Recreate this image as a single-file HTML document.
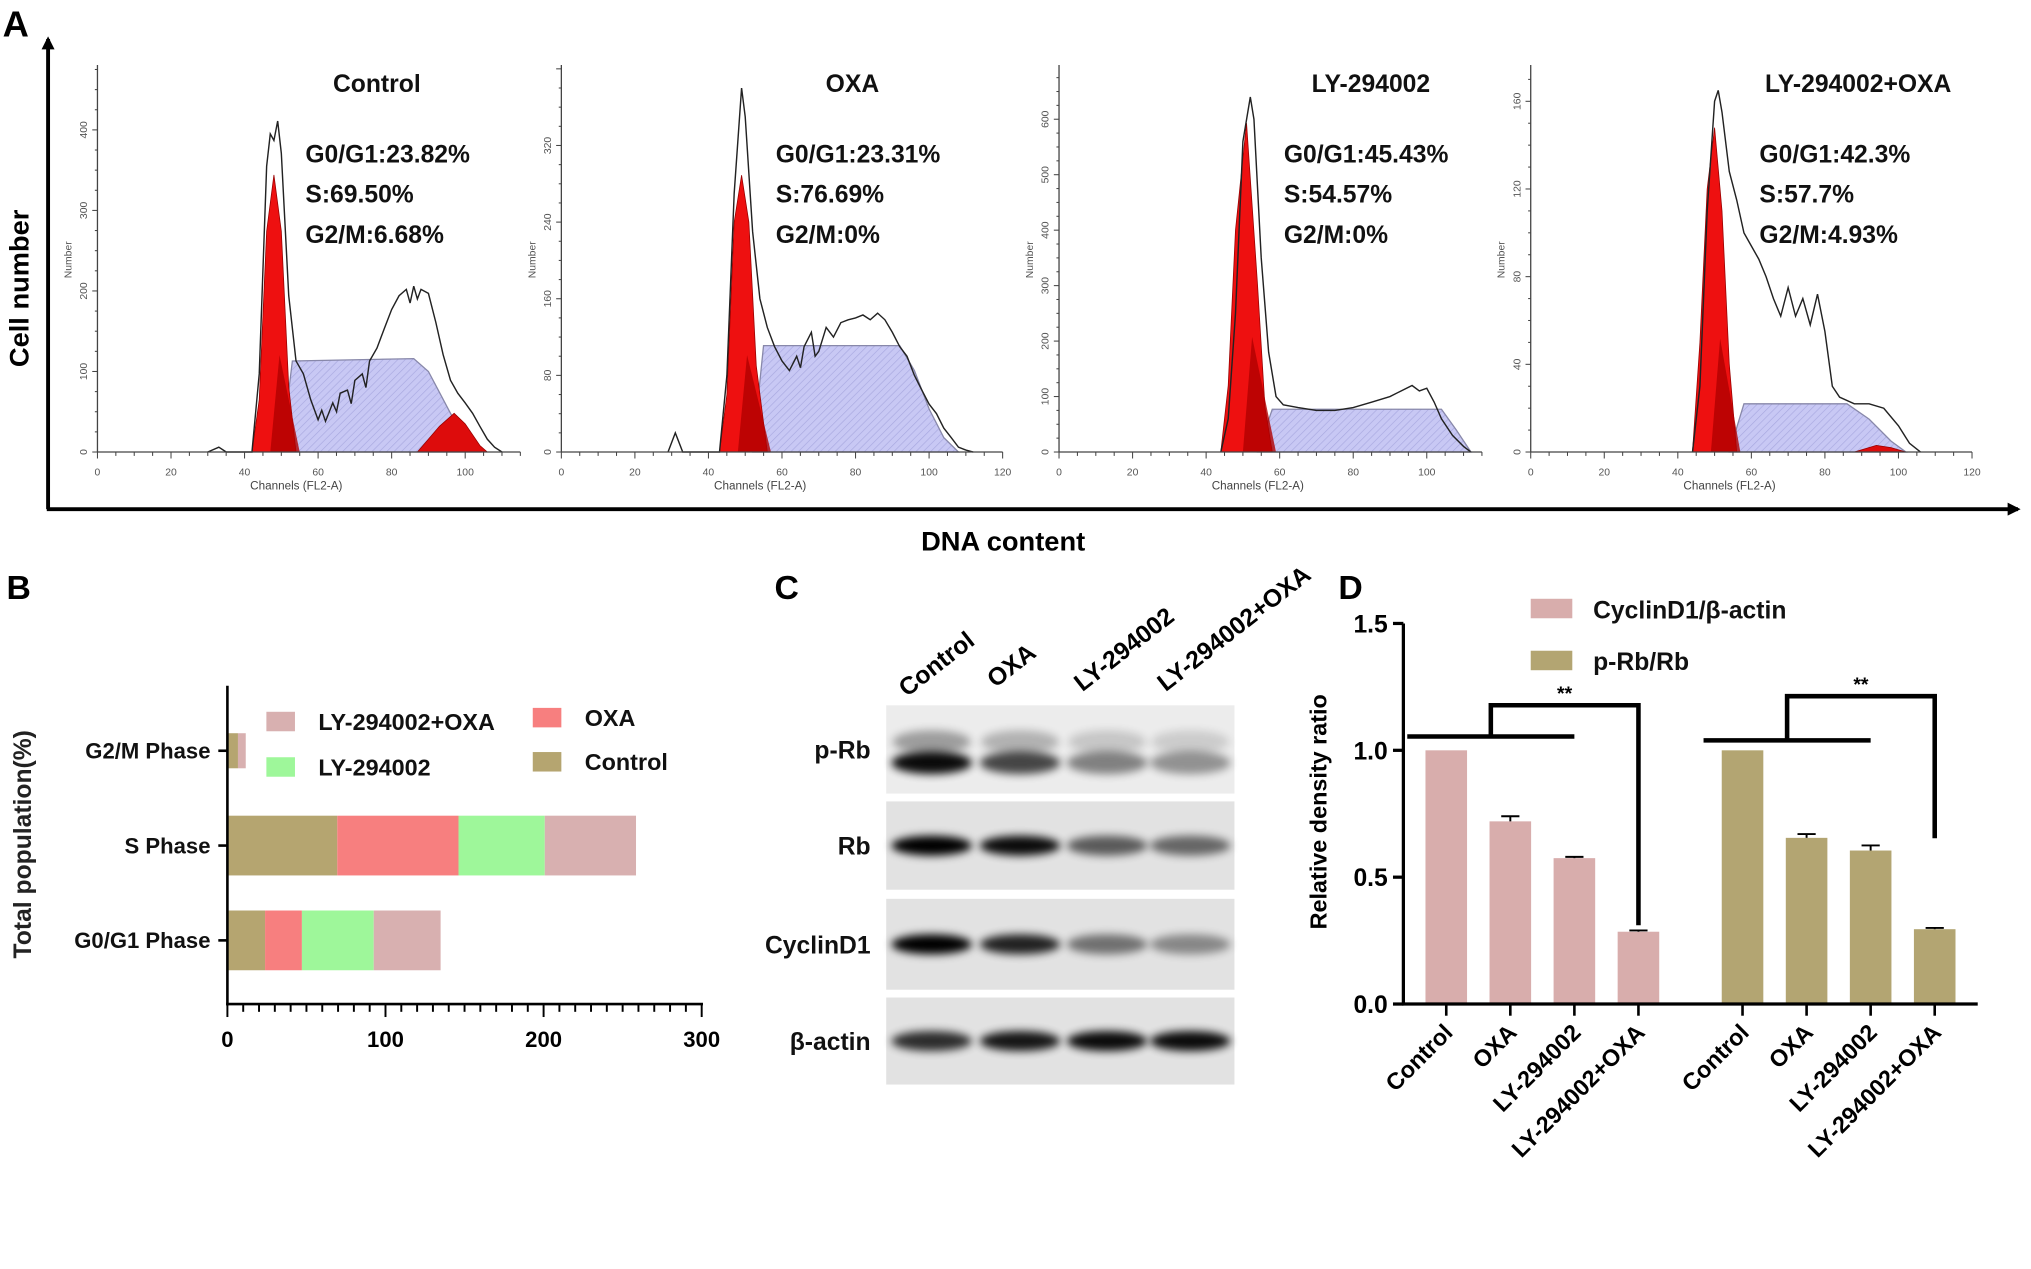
<!DOCTYPE html>
<html><head><meta charset="utf-8">
<style>
html,body{margin:0;padding:0;background:#fff;}
svg{display:block;}
text{font-family:"Liberation Sans",Arial,sans-serif;}
.b{font-weight:bold;}
</style></head>
<body>
<svg id="fig" width="2031" height="1269" viewBox="0 0 1563 977" preserveAspectRatio="none" xmlns="http://www.w3.org/2000/svg">
<defs>
<pattern id="hatch" width="4" height="4" patternUnits="userSpaceOnUse" patternTransform="rotate(45)">
<rect width="4" height="4" fill="#c8c8f4"/><line x1="0" y1="0" x2="0" y2="4" stroke="#a8a8e0" stroke-width="1"/></pattern>
<filter id="blur" x="-30%" y="-80%" width="160%" height="260%"><feGaussianBlur stdDeviation="3.2"/></filter>
<marker id="arr" markerWidth="10" markerHeight="10" refX="8" refY="5" orient="auto" markerUnits="userSpaceOnUse"><path d="M0,0 L10,5 L0,10 z" fill="#000"/></marker>
</defs>
<g id="panelA"></g>
<g id="panelB"></g>
<g id="panelC"></g>
<g id="panelD"></g>
</svg>
<script>
// ---------- Panel A data ----------
const histTitles = ["Control","OXA","LY-294002","LY-294002+OXA"];
const statG1 = ["G0/G1:23.82%","G0/G1:23.31%","G0/G1:45.43%","G0/G1:42.3%"];
const statS = ["S:69.50%","S:76.69%","S:54.57%","S:57.7%"];
const statG2 = ["G2/M:6.68%","G2/M:0%","G2/M:0%","G2/M:4.93%"];
const yTicksCtrl = [0,100,200,300,400];
const yTicksOxa = [0,80,160,240,320];
const yTicksLy = [0,100,200,300,400,500,600];
const yTicksLyOxa = [0,40,80,120,160];
const xTicksHist = [0,20,40,60,80,100,120];
const outCtrl = [[30,0],[33,6],[35,0],[42,0],[44,97],[46,355],[47,395],[48,387],[49,411],[50,371],[52,194],[54,113],[56,97],[58,65],[60,40],[61,52],[62,38],[64,61],[65,50],[66,73],[68,77],[69,60],[70,89],[72,97],[73,80],[74,113],[76,129],[78,153],[80,177],[82,194],[84,202],[85,185],[86,206],[87,190],[88,202],[90,197],[92,161],[94,121],[96,89],[98,73],[100,61],[102,48],[104,32],[106,16],[108,6],[110,0]];
const g1Ctrl = [[42,0],[44,65],[46,274],[48,344],[50,274],[52,81],[54,0]];
const sCtrl = [[50,0],[53,113],[86,116],[90,100],[96,48],[100,16],[104,0]];
const g2Ctrl = [[87,0],[93,32],[97,48],[100,35],[104,8],[106,0]];
const outOxa = [[29,0],[31,20],[33,0],[43,0],[45,80],[47,270],[49,380],[50,350],[52,230],[54,160],[56,130],[58,110],[60,95],[62,85],[64,100],[65,88],[66,110],[68,125],[69,100],[70,105],[72,130],[74,120],[76,135],[78,138],[80,140],[82,143],[84,138],[86,145],[88,138],[90,125],[92,110],[94,100],[96,80],[98,65],[100,50],[102,40],[104,25],[106,15],[108,5],[110,2],[112,0]];
const g1Oxa = [[43,0],[45,60],[47,240],[49,289],[51,240],[53,90],[56,0]];
const sOxa = [[52,0],[55,111],[92,111],[96,85],[100,45],[104,15],[108,0]];
const g2Oxa = [];
const outLy = [[44,0],[46,60],[48,250],[50,560],[52,640],[53,600],[55,350],[57,180],[59,100],[61,85],[65,80],[70,75],[75,75],[80,80],[85,90],[90,100],[93,110],[96,120],[98,110],[100,115],[102,90],[104,60],[107,30],[110,10],[112,0]];
const g1Ly = [[44,0],[46,120],[48,400],[51,593],[54,300],[56,80],[58,0]];
const sLy = [[54,0],[58,77],[104,77],[108,40],[112,0]];
const g2Ly = [];
const outLyOxa = [[44,0],[46,30],[48,110],[50,160],[51,165],[52,155],[54,128],[56,115],[58,100],[60,94],[62,88],[64,80],[66,70],[68,62],[70,75],[72,62],[74,70],[76,58],[78,72],[80,55],[82,30],[84,25],[88,22],[92,22],[96,20],[100,12],[103,4],[106,0]];
const g1LyOxa = [[44,0],[46,50],[48,120],[50,148],[52,110],[54,40],[56,0]];
const sLyOxa = [[54,0],[58,22],[86,22],[92,15],[98,5],[102,0]];
const g2LyOxa = [[88,0],[94,3],[98,2],[102,0]];

// ---------- Panel B data ----------
const phases = ["G2/M Phase","S Phase","G0/G1 Phase"];
const bControl = [6.68,69.50,23.82];
const bOxa = [0,76.69,23.31];
const bLy = [0,54.57,45.43];
const bLyOxa = [4.93,57.7,42.3];
const bTicks = [0,100,200,300];

// ---------- Panel C data ----------
const blotRows = ["p-Rb","Rb","CyclinD1","β-actin"];
const blotLanes = ["Control","OXA","LY-294002","LY-294002+OXA"];
const intPRb = [0.95,0.7,0.45,0.38];
const intRb = [1.0,0.95,0.6,0.55];
const intCyc = [1.0,0.85,0.5,0.4];
const intAct = [0.8,0.9,0.95,0.95];

// ---------- Panel D data ----------
const dCats = ["Control","OXA","LY-294002","LY-294002+OXA"];
const dCyc = [1.0,0.72,0.575,0.285];
const dCycErr = [0,0.02,0.005,0.005];
const dPrb = [1.0,0.655,0.605,0.295];
const dPrbErr = [0,0.015,0.02,0.005];
const dTicks = [0.0,0.5,1.0,1.5];

const NS="http://www.w3.org/2000/svg";
function mk(parent,tag,attrs,txt){const e=document.createElementNS(NS,tag);for(const k in attrs)e.setAttribute(k,attrs[k]);if(txt!==undefined)e.textContent=txt;parent.appendChild(e);return e;}

// ===== Panel A =====
const A=document.getElementById('panelA');
let t=mk(A,'text',{x:2,y:28,'font-size':28,class:'b'},'A');


let l=mk(A,'line',{x1:37,y1:392,x2:37,y2:30,stroke:'#000','stroke-width':3,'marker-end':'url(#arr)'});


l=mk(A,'line',{x1:36,y1:392,x2:1553,y2:392,stroke:'#000','stroke-width':3,'marker-end':'url(#arr)'});


t=mk(A,'text',{x:0,y:0,'font-size':21,class:'b','text-anchor':'middle',transform:'translate(22,222) rotate(-90)'},'Cell number');


t=mk(A,'text',{x:772,y:424,'font-size':21,class:'b','text-anchor':'middle'},'DNA content');



const panels=[
 {x0:75,xmax:115,ticks:yTicksCtrl,ppc:0.62,out:outCtrl,g1:g1Ctrl,s:sCtrl,g2:g2Ctrl,tx:290,sx:235},
 {x0:432,xmax:120,ticks:yTicksOxa,ppc:0.7375,out:outOxa,g1:g1Oxa,s:sOxa,g2:g2Oxa,tx:656,sx:597},
 {x0:815,xmax:115,ticks:yTicksLy,ppc:0.427,out:outLy,g1:g1Ly,s:sLy,g2:g2Ly,tx:1055,sx:988},
 {x0:1178,xmax:120,ticks:yTicksLyOxa,ppc:1.6875,out:outLyOxa,g1:g1LyOxa,s:sLyOxa,g2:g2LyOxa,tx:1430,sx:1354}
];
const Y0=348, PXC=2.83;
panels.forEach((p,i)=>{
 const g=mk(A,'g',{});
 
 
 const xs=c=>p.x0+c*PXC, ys=v=>Y0-v*p.ppc;
 const pathOf=(arr,close)=>arr.map((d,k)=>(k?'L':'M')+xs(d[0]).toFixed(1)+','+ys(d[1]).toFixed(1)).join(' ')+(close?' Z':'');
 if(p.s.length){let e=mk(g,'path',{d:pathOf(p.s,true),fill:'url(#hatch)',stroke:'#8888aa','stroke-width':1});
  
  }
 let e=mk(g,'path',{d:pathOf(p.g1,true),fill:'#ee1010',stroke:'#900','stroke-width':0.6});
 
 
 const pk=p.g1.reduce((a,b)=>b[1]>a[1]?b:a);
 const last=p.g1[p.g1.length-1];
 mk(g,'path',{d:`M${xs(pk[0]-1)},${Y0} L${xs(pk[0]+1.5)},${ys(pk[1]*0.35)} L${xs(last[0]+1)},${Y0} Z`,fill:'#b00000',opacity:0.8});
 if(p.g2.length){e=mk(g,'path',{d:pathOf(p.g2,true),fill:'#dd0c0c',stroke:'#900','stroke-width':0.6});
  
  }
 e=mk(g,'path',{d:pathOf(p.out,false),fill:'none',stroke:'#222','stroke-width':1.1});
 
 
 mk(g,'line',{x1:p.x0,y1:Y0,x2:p.x0,y2:50,stroke:'#444','stroke-width':1});
 mk(g,'line',{x1:p.x0,y1:Y0,x2:xs(p.xmax),y2:Y0,stroke:'#444','stroke-width':1});
 for(let c=0;c<=p.xmax;c+=5){mk(g,'line',{x1:xs(c),y1:Y0,x2:xs(c),y2:Y0+(c%20?3:5),stroke:'#444','stroke-width':0.8});}
 xTicksHist.filter(c=>c<=p.xmax).forEach(c=>{mk(g,'text',{x:xs(c),y:Y0+18,'font-size':8,'text-anchor':'middle',fill:'#555'},String(c));});
 const step=p.ticks[1]-p.ticks[0];
 for(let v=0;v*p.ppc<=298;v+=step/4){mk(g,'line',{x1:p.x0,y1:ys(v),x2:p.x0-(v%step?2:4),y2:ys(v),stroke:'#444','stroke-width':0.8});}
 p.ticks.forEach(v=>{mk(g,'text',{x:0,y:0,'font-size':8,'text-anchor':'middle',fill:'#555',transform:`translate(${p.x0-8},${ys(v)}) rotate(-90)`},String(v));});
 mk(g,'text',{x:0,y:0,'font-size':8,'text-anchor':'middle',fill:'#555',transform:`translate(${p.x0-20},200) rotate(-90)`},'Number');
 mk(g,'text',{x:p.x0+153,y:Y0+29,'font-size':9,'text-anchor':'middle',fill:'#444'},'Channels (FL2-A)');
 e=mk(g,'text',{x:p.tx,y:71,'font-size':19,class:'b','text-anchor':'middle',fill:'#111'},histTitles[i]);
 
 
 [statG1[i],statS[i],statG2[i]].forEach((s,k)=>{
  e=mk(g,'text',{x:p.sx,y:125+k*31,'font-size':19,class:'b',fill:'#111'},s);
  
  
 });
});

// ===== Panel B =====
const B=document.getElementById('panelB');
t=mk(B,'text',{x:5,y:461,'font-size':26,class:'b'},'B');


const bx=v=>175+v*(365/300);
const bCenters=[578,651,724], bH=[27,46,46];
const series=[[bControl,'#b5a570','Control'],[bOxa,'#f77f7f','OXA'],[bLy,'#9ef79a','LY-294002'],[bLyOxa,'#d8b0b0','LY-294002+OXA']];
phases.forEach((ph,i)=>{
 let acc=0;
 series.forEach(([arr,col,nm])=>{
  const r=mk(B,'rect',{x:bx(acc),y:bCenters[i]-bH[i]/2,width:Math.max(0,bx(acc+arr[i])-bx(acc)),height:bH[i],fill:col});
  
  
  acc+=arr[i];
 });
 mk(B,'line',{x1:168,y1:bCenters[i],x2:175,y2:bCenters[i],stroke:'#000','stroke-width':2});
 const e=mk(B,'text',{x:162,y:bCenters[i]+6,'font-size':17,class:'b','text-anchor':'end',fill:'#111'},ph);
 
 
});
mk(B,'line',{x1:175,y1:528,x2:175,y2:774,stroke:'#000','stroke-width':2});
mk(B,'line',{x1:174,y1:773,x2:541,y2:773,stroke:'#000','stroke-width':2});
for(let v=0;v<=300;v+=10){mk(B,'line',{x1:bx(v),y1:773,x2:bx(v),y2:v%100?779:783,stroke:'#000','stroke-width':1.5});}
bTicks.forEach(v=>{const e=mk(B,'text',{x:bx(v),y:806,'font-size':17,class:'b','text-anchor':'middle'},String(v));
 
 });
t=mk(B,'text',{x:0,y:0,'font-size':19,class:'b','text-anchor':'middle',fill:'#222',transform:'translate(24,650) rotate(-90)'},'Total population(%)');


const legB=[[205,556,'#d8b0b0','LY-294002+OXA'],[205,591,'#9ef79a','LY-294002'],[410,553,'#f77f7f','OXA'],[410,587,'#b5a570','Control']];
legB.forEach(([x,y,c,n])=>{
 const g=mk(B,'g',{});
 
 
 mk(g,'rect',{x:x,y:y-8,width:22,height:15,fill:c});
 mk(g,'text',{x:x+40,y:y+6,'font-size':18,class:'b',fill:'#111'},n);
});

// ===== Panel C =====
const C=document.getElementById('panelC');
t=mk(C,'text',{x:596,y:461,'font-size':26,class:'b'},'C');


const laneX=[722,790,857,921];
blotLanes.forEach((n,i)=>{const e=mk(C,'text',{x:0,y:0,'font-size':19,class:'b',transform:`translate(${laneX[i]-24},${[537,530,533,533][i]}) rotate(-38)`},n);
 
 });
const rowsY=[[543,611],[617,685],[692,762],[768,835]];
const rowBand=[[0.65,16],[0.5,14],[0.5,14],[0.5,14]];
const ints=[intPRb,intRb,intCyc,intAct];
blotRows.forEach((r,i)=>{
 const g=mk(C,'g',{});
 
 
 const [y1,y2]=rowsY[i];
 mk(g,'rect',{x:682,y:y1,width:268,height:y2-y1,fill:i==0?'#ececec':'#e2e2e2'});
 const cy=y1+(y2-y1)*rowBand[i][0];
 ints[i].forEach((v,k)=>{
  const e=mk(g,'ellipse',{cx:laneX[k]-5,cy:cy,rx:31,ry:rowBand[i][1]*0.55,fill:'#000',opacity:Math.min(1,v),filter:'url(#blur)'});
  
  
  if(i==0) mk(g,'ellipse',{cx:laneX[k]-5,cy:cy-16,rx:30,ry:9,fill:'#000',opacity:v*0.35,filter:'url(#blur)'});
 });
 const e=mk(g,'text',{x:670,y:(y1+y2)/2+7,'font-size':19,class:'b','text-anchor':'end',fill:'#111'},r);
 
 
});

// ===== Panel D =====
const D=document.getElementById('panelD');
t=mk(D,'text',{x:1030,y:461,'font-size':26,class:'b'},'D');


const dy=v=>773-v*(293/1.5);
const AX=1080, BW=32, STEP=49.3;
const barX=(grp,k)=>1097+grp*228+k*STEP;
[[dCyc,dCycErr,'#d8adac','cyclind1'],[dPrb,dPrbErr,'#b3a572','p-rb']].forEach(([vals,errs,col,nm],gi)=>{
 vals.forEach((v,k)=>{
  const x=barX(gi,k);
  const r=mk(D,'rect',{x:x,y:dy(v),width:BW,height:773-dy(v),fill:col});
  
  
  if(errs[k]>0||k>0){
   mk(D,'line',{x1:x+BW/2,y1:dy(v),x2:x+BW/2,y2:dy(v+errs[k]),stroke:'#000','stroke-width':1.5});
   mk(D,'line',{x1:x+BW/2-7,y1:dy(v+errs[k]),x2:x+BW/2+7,y2:dy(v+errs[k]),stroke:'#000','stroke-width':1.5});
  }
  mk(D,'line',{x1:x+BW/2,y1:773,x2:x+BW/2,y2:782,stroke:'#000','stroke-width':2});
  const e=mk(D,'text',{x:0,y:0,'font-size':18,class:'b','text-anchor':'end',transform:`translate(${x+BW/2+6},${796}) rotate(-45)`},dCats[k]);
  
  
 });
 const xa=barX(gi,0)+BW/2-30, xb=barX(gi,2)+BW/2, xm=(xa+xb)/2, xc=barX(gi,3)+BW/2;
 const yb=gi?570:567, yt=gi?536:543, yd=dy(vals[3])-(gi?70:5);
 const br=mk(D,'path',{d:`M${xa},${yb} L${xb},${yb} M${xm},${yb} L${xm},${yt} L${xc},${yt} L${xc},${yd}`,fill:'none',stroke:'#000','stroke-width':3.5});
 
 
 const st=mk(D,'text',{x:(xm+xc)/2,y:yt-4,'font-size':15,class:'b','text-anchor':'middle'},'**');
 
 
});
mk(D,'line',{x1:AX,y1:480,x2:AX,y2:774,stroke:'#000','stroke-width':2.5});
mk(D,'line',{x1:AX-1,y1:773,x2:1522,y2:773,stroke:'#000','stroke-width':2.5});
dTicks.forEach(v=>{mk(D,'line',{x1:AX-8,y1:dy(v),x2:AX,y2:dy(v),stroke:'#000','stroke-width':2.5});
 const e=mk(D,'text',{x:AX-12,y:dy(v)+7,'font-size':19,class:'b','text-anchor':'end'},v.toFixed(1));
 
 });
t=mk(D,'text',{x:0,y:0,'font-size':18,class:'b','text-anchor':'middle',transform:'translate(1021,625) rotate(-90)'},'Relative density ratio');


[[469,'#d8adac','CyclinD1/β-actin'],[509,'#b3a572','p-Rb/Rb']].forEach(([y,c,n])=>{
 const g=mk(D,'g',{});
 
 
 mk(g,'rect',{x:1178,y:y-8,width:32,height:15,fill:c});
 mk(g,'text',{x:1226,y:y+7,'font-size':19,class:'b',fill:'#111'},n);
});
</script>
</body></html>
